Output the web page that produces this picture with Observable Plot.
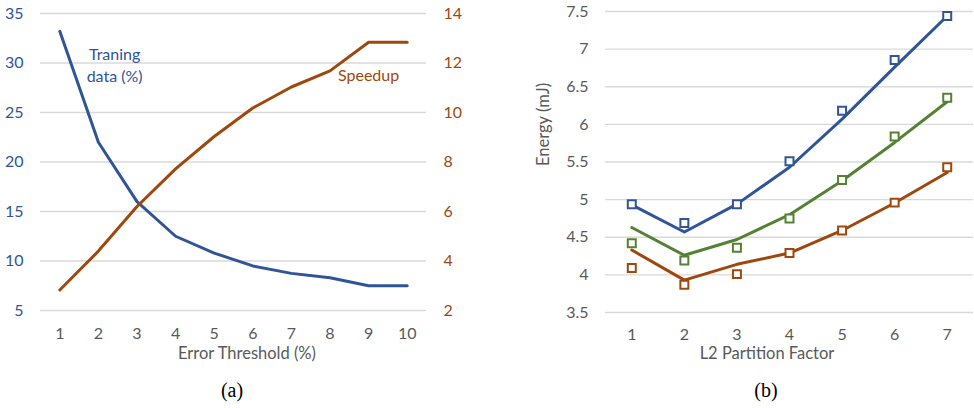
<!DOCTYPE html>
<html><head><meta charset="utf-8">
<script src="https://cdn.jsdelivr.net/npm/d3@7"></script>
<script src="https://cdn.jsdelivr.net/npm/@observablehq/plot@0.6"></script>
<style>
body{margin:0;background:#fff;}
#wrap{position:relative;width:974px;height:408px;font-family:Lato,sans-serif;overflow:hidden;}
.abs{position:absolute;top:0;}
.t{position:absolute;color:#595959;font-size:16.5px;transform:translate(-50%,-50%);white-space:nowrap;font-family:Lato,sans-serif;}
.cap{position:absolute;font-family:"Liberation Serif",serif;font-size:20px;color:#000;transform:translate(-50%,-50%);}
</style></head><body><div id="wrap"></div>
<script>
// ---- Panel (a) data ----
const thresholds = [1, 2, 3, 4, 5, 6, 7, 8, 9, 10];
const trainingData = [33.2, 22.0, 16.0, 12.5, 10.8, 9.5, 8.75, 8.3, 7.5, 7.5];
const speedup = [2.83, 4.4, 6.2, 7.72, 9.03, 10.18, 11.03, 11.68, 12.84, 12.84];
const trainTicks = [5, 10, 15, 20, 25, 30, 35];
const speedTicks = [2, 4, 6, 8, 10, 12, 14];
const trainLabel = [{x: 2.42, y: 29.9, text: "Traning\ndata (%)"}];
const speedLabel = [{x: 9.0, y: 11.46, text: "Speedup"}];

// ---- Panel (b) data ----
const partition = [1, 2, 3, 4, 5, 6, 7];
const blueLine = [4.93, 4.57, 4.94, 5.43, 6.07, 6.76, 7.44];
const blueMarks = [4.94, 4.69, 4.94, 5.51, 6.18, 6.855, 7.44];
const greenLine = [4.63, 4.26, 4.47, 4.80, 5.25, 5.76, 6.30];
const greenMarks = [4.42, 4.19, 4.36, 4.75, 5.26, 5.84, 6.355];
const brownLine = [4.33, 3.93, 4.14, 4.29, 4.59, 4.955, 5.36];
const brownMarks = [4.09, 3.87, 4.01, 4.29, 4.59, 4.96, 5.43];
const energyTicks = [3.5, 4, 4.5, 5, 5.5, 6, 6.5, 7, 7.5];

const BLUE = "#2f5597", BROWN = "#9e480e", GREEN = "#548235", GRAY = "#595959", GRID = "#d9d9d9";
const style = {fontFamily: "Lato, sans-serif", fontSize: "16px", color: GRAY, background: "transparent", overflow: "visible"};
const TICK = 16;

const wrap = document.getElementById("wrap");
function place(el, left) { el.classList.add("abs"); el.style.left = left + "px"; wrap.appendChild(el); }

const trainRows = thresholds.map((x, i) => ({x, y: trainingData[i]}));
const speedRows = thresholds.map((x, i) => ({x, y: speedup[i]}));
const dimsA = {width: 480, height: 345, marginLeft: 40, marginRight: 54, marginTop: 13, marginBottom: 35};
const xA = {type: "linear", domain: [0.5, 10.5]};

const pA1 = Plot.plot({
  ...dimsA, style,
  x: xA,
  y: {domain: [5, 35]},
  marks: [
    Plot.ruleY(trainTicks, {stroke: GRID, strokeWidth: 1.3}),
    Plot.axisX(thresholds, {tickSize: 0, tickPadding: 17, fill: GRAY, fontSize: TICK, label: null}),
    Plot.axisY(trainTicks, {anchor: "left", tickSize: 0, tickPadding: 17, fill: BLUE, fontSize: TICK, label: null}),
    Plot.line(trainRows, {x: "x", y: "y", stroke: BLUE, strokeWidth: 3}),
    Plot.text(trainLabel, {x: "x", y: "y", text: "text", fill: BLUE, fontSize: 16, lineHeight: 1.38})
  ]
});
place(pA1, 0);

const pA2 = Plot.plot({
  ...dimsA, style,
  x: {...xA, axis: null},
  y: {domain: [2, 14]},
  marks: [
    Plot.axisY(speedTicks, {anchor: "right", tickSize: 0, tickPadding: 17, fill: BROWN, fontSize: TICK, label: null}),
    Plot.line(speedRows, {x: "x", y: "y", stroke: BROWN, strokeWidth: 3}),
    Plot.text(speedLabel, {x: "x", y: "y", text: "text", fill: BROWN, fontSize: 16})
  ]
});
place(pA2, 0);

// Panel (b)
const series = [
  {name: "s1", color: BLUE, line: blueLine, marks: blueMarks},
  {name: "s2", color: GREEN, line: greenLine, marks: greenMarks},
  {name: "s3", color: BROWN, line: brownLine, marks: brownMarks}
];
const lineRows = series.flatMap(s => partition.map((x, i) => ({x, y: s.line[i], s: s.name})));
const markRows = series.flatMap(s => partition.map((x, i) => ({x, y: s.marks[i], s: s.name})));
const colorDomain = series.map(s => s.name), colorRange = series.map(s => s.color);

const pB = Plot.plot({
  width: 484, height: 345, marginLeft: 115, marginRight: 1, marginTop: 11, marginBottom: 33, style,
  x: {type: "linear", domain: [0.5, 7.5]},
  y: {domain: [3.5, 7.5]},
  color: {type: "ordinal", domain: colorDomain, range: colorRange},
  marks: [
    Plot.ruleY(energyTicks, {stroke: GRID, strokeWidth: 1.3}),
    Plot.axisX(partition, {tickSize: 0, tickPadding: 16, fill: GRAY, fontSize: TICK, label: null}),
    Plot.axisY(energyTicks, {anchor: "left", tickSize: 0, tickPadding: 17, fill: GRAY, fontSize: TICK, label: null, tickFormat: d => String(d)}),
    Plot.text(["Energy (mJ)"], {frameAnchor: "left", rotate: -90, dx: -62, dy: 4, fill: GRAY, fontSize: 16.5}),
    Plot.line(lineRows, {x: "x", y: "y", z: "s", stroke: "s", strokeWidth: 3}),
    Plot.dot(markRows, {x: "x", y: "y", stroke: "s", symbol: "square", r: 4.5, fill: "white", strokeWidth: 2})
  ]
});
place(pB, 490);

function addText(cls, txt, x, y) {
  const d = document.createElement("div"); d.className = cls; d.textContent = txt;
  d.style.left = x + "px"; d.style.top = y + "px"; wrap.appendChild(d);
}
addText("t", "Error Threshold (%)", 247, 353);
addText("t", "L2 Partition Factor", 767, 353);
addText("cap", "(a)", 232, 390);
addText("cap", "(b)", 766, 390);
</script></body></html>
